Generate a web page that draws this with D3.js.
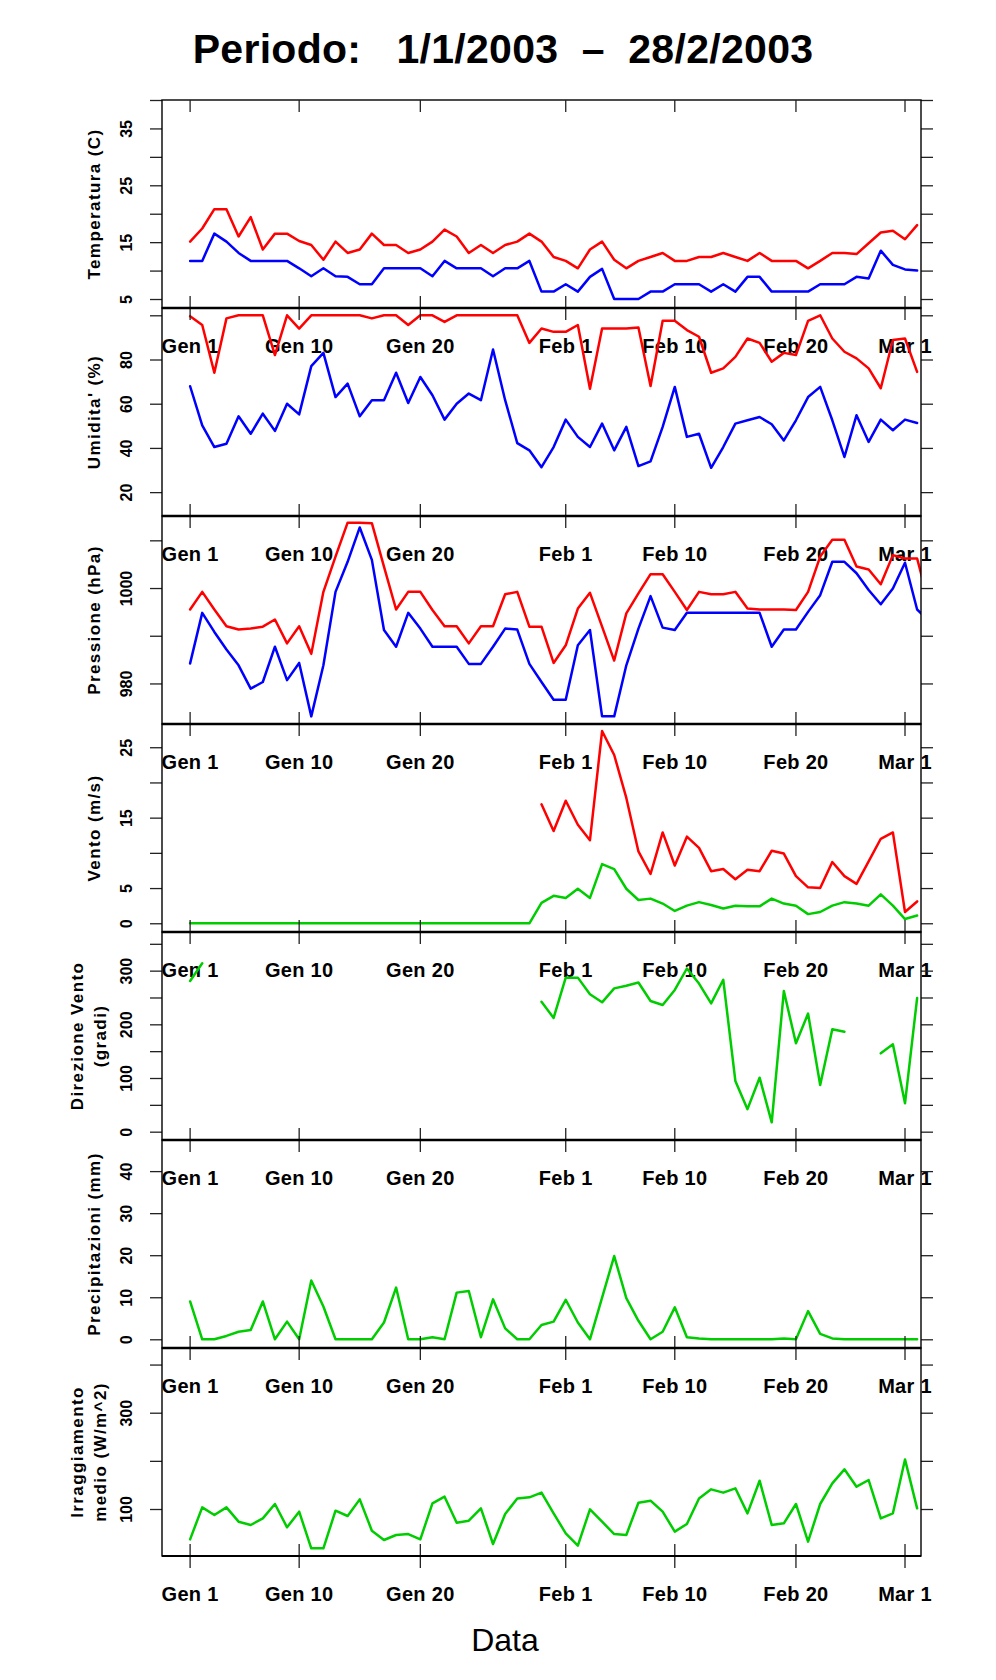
<!DOCTYPE html>
<html>
<head>
<meta charset="utf-8">
<script src="https://cdn.jsdelivr.net/npm/d3@7"></script>
<style>
  html, body { margin: 0; padding: 0; background: #fff; }
  svg { display: block; font-family: "Liberation Sans", Arial, Helvetica, sans-serif; }
</style>
</head>
<body>
<div id="chart"></div>
<script>
// ---------- DATA (day index 0 = 1 Jan 2003) ----------
const titleText = "Periodo:   1/1/2003  \u2013  28/2/2003";
const xAxisTitle = "Data";
const tickDays   = [0, 9, 19, 31, 40, 50, 59];
const tickLabels = ["Gen 1", "Gen 10", "Gen 20", "Feb 1", "Feb 10", "Feb 20", "Mar 1"];

const tempMax = [15.1,17.4,20.8,20.8,16.0,19.4,13.7,16.5,16.5,15.2,
  14.5,11.9,15.1,13.1,13.7,16.5,14.5,14.5,13.1,13.7,
  15.1,17.2,16.0,13.1,14.5,13.1,14.5,15.1,16.5,15.1,
  12.4,11.7,10.4,13.7,15.1,11.9,10.4,11.7,12.4,13.1,
  11.7,11.7,12.4,12.4,13.1,12.4,11.7,13.1,11.7,11.7,
  11.7,10.4,11.7,13.1,13.1,12.9,14.8,16.7,17.0,15.5,
  18.0];
const tempMin = [11.7,11.7,16.5,15.1,13.1,11.7,11.7,11.7,11.7,10.4,
  9.0,10.4,9.0,8.9,7.6,7.6,10.4,10.4,10.4,10.4,
  9.0,11.7,10.4,10.4,10.4,9.0,10.4,10.4,11.7,6.3,
  6.3,7.6,6.3,8.9,10.3,5.0,5.0,5.0,6.3,6.3,
  7.6,7.6,7.6,6.3,7.6,6.3,8.9,8.9,6.3,6.3,
  6.3,6.3,7.6,7.6,7.6,8.9,8.6,13.5,11.0,10.2,
  10.0];

const humMax = [99.6,95.6,74,98.6,100,100,100,82,100,94,
  100,100,100,100,100,98.6,100,100,95.6,100,
  100,97,100,100,100,100,100,100,87.5,94,
  92.5,92.5,95.6,66.8,94,94,94,94.5,68,97.5,
  97.5,93.3,90.3,74,76,81.2,89.5,87.5,79,83,
  82,97.5,100,89.5,83.5,80.5,76,67,88.8,89.5,
  74.4];
const humMin = [67.9,50.2,40.4,41.9,54.3,46.4,55.5,47.7,60,55.2,
  77,83,63,69.1,54.3,61.6,61.6,74,60.3,72.1,
  63.8,52.8,60,64.6,61.6,84.5,61.6,42.2,38.9,31.3,
  40.4,52.8,45,40.4,51,38.9,49.5,31.8,33.9,49.5,
  67.6,45,46.4,31,40.4,51,52.5,54,50.7,43.4,
  52.5,63,67.6,52.5,35.9,54.8,42.7,52.8,48,52.8,
  51.3];

const pressMax = [995.5,999.2,995.5,992,991.3,991.5,991.9,993.4,988.4,992,
  986.2,999.2,1006.6,1013.7,1013.7,1013.6,1004.5,995.5,999.2,999.2,
  995.4,992,992,988.4,992,992,998.7,999.2,991.9,991.9,
  984.3,988,995.7,999,991.9,984.8,994.7,998.9,1002.9,1002.9,
  999.2,995.4,999.2,998.7,998.7,999.2,995.7,995.5,995.5,995.5,
  995.4,999.2,1006.6,1010.1,1010.1,1004.5,1003.9,1000.8,1006.9,1006.2,
  1006.2,996.5];
const pressMin = [984.2,994.8,990.8,987.1,983.8,978.9,980.3,987.7,980.7,984.3,
  973.1,983.8,999.2,1005.5,1012.7,1005.9,991.2,987.7,994.8,991.5,
  987.7,987.7,987.7,984.1,984.1,987.7,991.5,991.3,984.1,980.3,
  976.6,976.6,988,991.2,973.1,973.1,983.8,991.5,998.3,991.7,
  991.2,994.8,994.8,994.8,994.8,994.8,994.8,994.8,987.7,991.3,
  991.3,995,998.5,1005.5,1005.5,1003.1,999.6,996.6,999.9,1005.3,
  995.5,993];

const windMax = [null,null,null,null,null,null,null,null,null,null,
  null,null,null,null,null,null,null,null,null,null,
  null,null,null,null,null,null,null,null,null,16.9,
  13.1,17.4,14.0,11.8,27.3,23.9,17.8,10.2,7.0,12.9,
  8.2,12.3,10.7,7.4,7.7,6.25,7.6,7.4,10.3,9.9,
  6.7,5.1,5.0,8.7,6.7,5.6,8.8,12.0,12.9,1.6,
  3.1];
const windMean = [0,0,0,0,0,0,0,0,0,0,
  0,0,0,0,0,0,0,0,0,0,
  0,0,0,0,0,0,0,0,0,2.9,
  3.9,3.6,4.9,3.6,8.4,7.7,4.9,3.3,3.5,2.8,
  1.75,2.5,3.0,2.6,2.1,2.5,2.4,2.4,3.5,2.8,
  2.5,1.3,1.6,2.5,3.0,2.8,2.5,4.1,2.5,0.6,
  1.1];

const windDir = [280.7,313.7,null,null,null,null,null,null,null,null,
  null,null,null,null,null,null,null,null,null,null,
  null,null,null,null,null,null,null,null,null,242,
  212,287,287,256,241,267,272,278,243.5,236,
  264,304,276,239,283,94.4,42,100.6,17.4,262,
  164.6,220,87,191,186,null,null,146,162.7,52.8,
  249];

const rain = [9.0,0,0,0.8,1.8,2.2,9.0,0,4.2,0,
  14.0,7.8,0,0,0,0,4.0,12.3,0,0,
  0.5,0,11.1,11.5,0.5,9.5,2.6,0,0,3.4,
  4.2,9.4,4.0,0,9.9,19.8,9.8,4.4,0,1.8,
  7.6,0.5,0.2,0,0,0,0,0,0,0.2,
  0,6.7,1.3,0.2,0,0,0,0,0,0,
  0];

const radiation = [37,103.5,87.5,103.5,73.7,66.8,80.6,110.4,62,94.5,
  18.3,18.3,96.5,85.5,120,55,35.6,46,48,37,
  111.8,125.6,71.6,75.8,101.4,27.3,89.6,122,124.2,134,
  91,49.5,24,99.3,73.7,48,46,113,117.3,94.5,
  53,68.9,122,140.8,134,143,91,158.8,66.8,70.2,
  110.4,32.2,110.4,153.3,182.4,146.4,160.2,80.6,91,203,
  101.4];

// y-axis tick values and labelled subset per panel
const tempTicks  = [5,10,15,20,25,30,35,40],        tempLabels  = [5,15,25,35];
const humTicks   = [20,40,60,80,100],               humLabels   = [20,40,60,80];
const pressTicks = [980,990,1000,1010],             pressLabels = [980,1000];
const windTicks  = [0,5,10,15,20,25],               windLabels  = [0,5,15,25];
const dirTicks   = [0,50,100,150,200,250,300,350],  dirLabels   = [0,100,200,300];
const rainTicks  = [0,10,20,30,40],                 rainLabels  = [0,10,20,30,40];
const radTicks   = [100,200,300,400],               radLabels   = [100,300];

// ---------- LAYOUT ----------
const W = 996, H = 1680;
const left = 162, right = 921, top0 = 100, ph = 208;
const RED = "#ff0000", BLUE = "#0000ff", GREEN = "#00cd00";

const panels = [
  {title:["Temperatura (C)"], domain:[3.42,40], ticks:tempTicks, labels:tempLabels,
   series:[{v:tempMax,c:RED},{v:tempMin,c:BLUE}]},
  {title:["Umidita' (%)"], domain:[9.2,103.3], ticks:humTicks, labels:humLabels,
   series:[{v:humMax,c:RED},{v:humMin,c:BLUE}]},
  {title:["Pressione (hPa)"], domain:[971.5,1015.1], ticks:pressTicks, labels:pressLabels,
   series:[{v:pressMax,c:RED},{v:pressMin,c:BLUE}]},
  {title:["Vento (m/s)"], domain:[-1.24,28.3], ticks:windTicks, labels:windLabels,
   series:[{v:windMax,c:RED},{v:windMean,c:GREEN}]},
  {title:["Direzione Vento","(gradi)"], domain:[-15.5,372], ticks:dirTicks, labels:dirLabels,
   series:[{v:windDir,c:GREEN}]},
  {title:["Precipitazioni (mm)"], domain:[-2.07,47.4], ticks:rainTicks, labels:rainLabels,
   series:[{v:rain,c:GREEN}]},
  {title:["Irraggiamento","medio (W/m^2)"], domain:[2.4,434.4], ticks:radTicks, labels:radLabels,
   series:[{v:radiation,c:GREEN}]}
];

const svg = d3.select("#chart").append("svg")
  .attr("width", W).attr("height", H).attr("viewBox", `0 0 ${W} ${H}`);

const x = d3.scaleLinear().domain([-2.32, 60.32]).range([left, right]);

// title
svg.append("text")
  .attr("x", 503).attr("y", 63)
  .attr("text-anchor", "middle")
  .attr("font-size", 41).attr("font-weight", "bold")
  .attr("letter-spacing", 0.3)
  .style("white-space", "pre")
  .text(titleText);

// x axis title
svg.append("text")
  .attr("x", 505).attr("y", 1651)
  .attr("text-anchor", "middle")
  .attr("font-size", 32)
  .text(xAxisTitle);

const defs = svg.append("defs");
const labelLayer = svg.append("g");
const lineLayer = svg.append("g");
const frameLayer = svg.append("g");

panels.forEach((p, i) => {
  const pt = top0 + i * ph, pb = pt + ph;
  const y = d3.scaleLinear().domain(p.domain).range([pb, pt]);

  // clip
  defs.append("clipPath").attr("id", "clip" + i)
    .append("rect").attr("x", left).attr("y", pt).attr("width", right - left).attr("height", ph);

  // y axis left
  const yl = frameLayer.append("g").attr("transform", `translate(${left},0)`)
    .call(d3.axisLeft(y).tickValues(p.ticks).tickSize(12)
      .tickFormat(d => p.labels.includes(d) ? String(d) : ""));
  yl.select(".domain").remove();
  yl.selectAll(".tick line").attr("stroke", "#222").attr("stroke-width", 1.3);
  yl.selectAll(".tick text")
    .attr("transform", "rotate(-90)")
    .attr("x", 0).attr("y", -30).attr("dy", 0)
    .attr("text-anchor", "middle")
    .attr("font-size", 16).attr("font-weight", "bold")
    .attr("font-family", "Liberation Sans, Arial, sans-serif")
    .attr("fill", "#000");

  // y axis right
  const yr = frameLayer.append("g").attr("transform", `translate(${right},0)`)
    .call(d3.axisRight(y).tickValues(p.ticks).tickSize(12).tickFormat(""));
  yr.select(".domain").remove();
  yr.selectAll(".tick line").attr("stroke", "#222").attr("stroke-width", 1.3);

  // y axis title
  const cy = (pt + pb) / 2;
  const baseX = p.title.length === 1 ? [100] : [83, 106];
  p.title.forEach((t, k) => {
    labelLayer.append("text")
      .attr("transform", `translate(${baseX[k]},${cy}) rotate(-90)`)
      .attr("text-anchor", "middle")
      .attr("font-size", 17).attr("font-weight", "bold")
      .attr("letter-spacing", 1.4)
      .text(t);
  });

  // x tick labels below the panel
  labelLayer.selectAll(null).data(tickDays).enter().append("text")
    .attr("x", d => x(d)).attr("y", pb + 45)
    .attr("text-anchor", "middle")
    .attr("font-size", 20).attr("font-weight", "bold")
    .attr("letter-spacing", 0.3)
    .text((d, k) => tickLabels[k]);

  // series
  const line = d3.line()
    .defined(d => d != null)
    .x((d, k) => x(k))
    .y(d => y(d));
  const g = lineLayer.append("g").attr("clip-path", `url(#clip${i})`);
  p.series.forEach(s => {
    g.append("path").datum(s.v)
      .attr("d", line)
      .attr("fill", "none")
      .attr("stroke", s.c)
      .attr("stroke-width", 2.5)
      .attr("stroke-linejoin", "round")
      .attr("stroke-linecap", "round");
  });

  // frame
  frameLayer.append("rect")
    .attr("x", left).attr("y", pt).attr("width", right - left).attr("height", ph)
    .attr("fill", "none").attr("stroke", "#000").attr("stroke-width", 1.4);
});

// x ticks on panel boundaries
const nP = panels.length;
for (let i = 0; i <= nP; i++) {
  const yb = top0 + i * ph;
  const y1 = i === 0 ? yb : yb - 12;
  const y2 = yb + 12;
  frameLayer.selectAll(null).data(tickDays).enter().append("line")
    .attr("x1", d => x(d)).attr("x2", d => x(d))
    .attr("y1", y1).attr("y2", y2)
    .attr("stroke", "#222").attr("stroke-width", 1.3);
  if (i > 0) {
    frameLayer.append("line")
      .attr("x1", left).attr("x2", right).attr("y1", yb).attr("y2", yb)
      .attr("stroke", "#000").attr("stroke-width", i === nP ? 2 : 2.6);
  }
}
</script>
</body>
</html>
